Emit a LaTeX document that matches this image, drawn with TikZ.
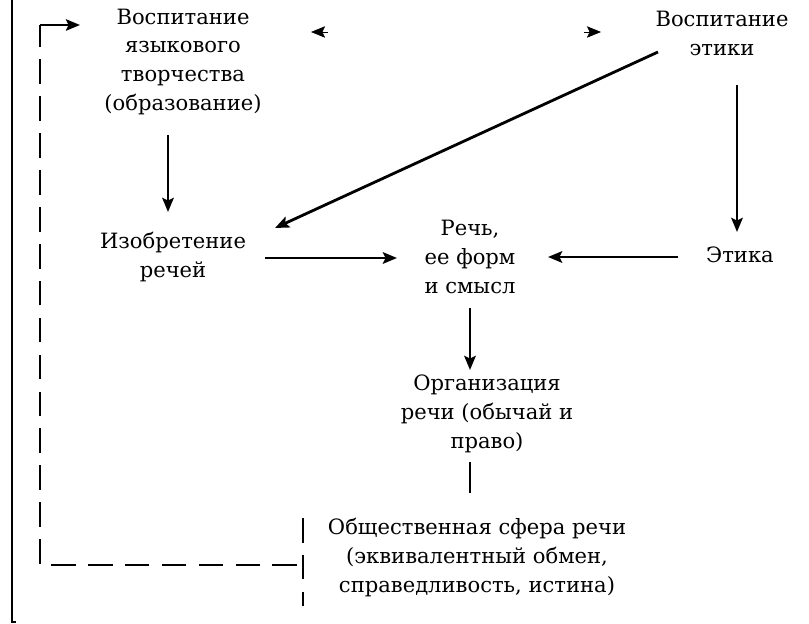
\documentclass[tikz,border=0pt]{standalone}
\usepackage{fontspec}
\setmainfont{DejaVu Serif}
\usetikzlibrary{arrows.meta}

\begin{document}
\begin{tikzpicture}[x=0.02cm, y=-0.02cm, >={Stealth[length=8pt,width=6.5pt,inset=1.5pt]},
  box/.style={align=center, font=\fontsize{12}{16.5}\selectfont, inner sep=2pt},
  arr/.style={line width=1.6pt, ->},
  dash line/.style={line width=1.4pt, dash pattern=on 14pt off 7pt}]

  \useasboundingbox (0,0) rectangle (809,624);

  % Rahmen links
  \draw[line width=1.6pt] (12,0) -- (12,622) -- (16,622);

  % Knoten
  \node[box] (vosp) at (183,62) {Воспитание\\языкового\\творчества\\(образование)};
  \node[box] (etvosp) at (722,33) {Воспитание\\этики};
  \node[box] (izobr) at (173,257) {Изобретение\\речей};
  \node[box] (rech) at (470,257) {Речь,\\ее форм\\и смысл};
  \node[box] (etika) at (740,255) {Этика};
  \node[box] (org) at (487,414) {Организация\\речи (обычай и\\право)};
  \node[box] (obsh) at (477,558) {Общественная сфера речи\\(эквивалентный обмен,\\справедливость, истина)};

  % Endpunkte
  \coordinate (a1) at (168,135);  \coordinate (a2) at (168,212);
  \coordinate (b1) at (737,85);   \coordinate (b2) at (737,232);
  \coordinate (d1) at (658,52);   \coordinate (d2) at (275,228);
  \coordinate (c1) at (265,258);  \coordinate (c2) at (397,258);
  \coordinate (e1) at (678,257);  \coordinate (e2) at (548,257);
  \coordinate (f1) at (470,308);  \coordinate (f2) at (470,370);
  \coordinate (g1) at (470,462);  \coordinate (g2) at (470,493);

  % Pfeile
  \draw[arr] (a1) -- (a2);
  \draw[arr] (b1) -- (b2);
  \draw[arr] (d1) -- (d2);
  \draw[arr] (c1) -- (c2);
  \draw[arr] (e1) -- (e2);
  \draw[arr] (f1) -- (f2);
  \draw[line width=1.6pt] (g1) -- (g2);

  % Pfeilspitzen oben
  \draw[->, line width=0.4pt] (328,32) -- (311,32);
  \draw[->, line width=0.4pt] (584,32) -- (601,32);

  % gestrichelte Rueckfuehrung
  \coordinate (r1) at (297,565);
  \draw[dash line] (303,518) -- (303,606);
  \draw[dash line] (r1) -- (40,565) -- (40,25);
  \draw[line width=1.4pt, ->] (40,25) -- (80,25);

\end{tikzpicture}
\end{document}
